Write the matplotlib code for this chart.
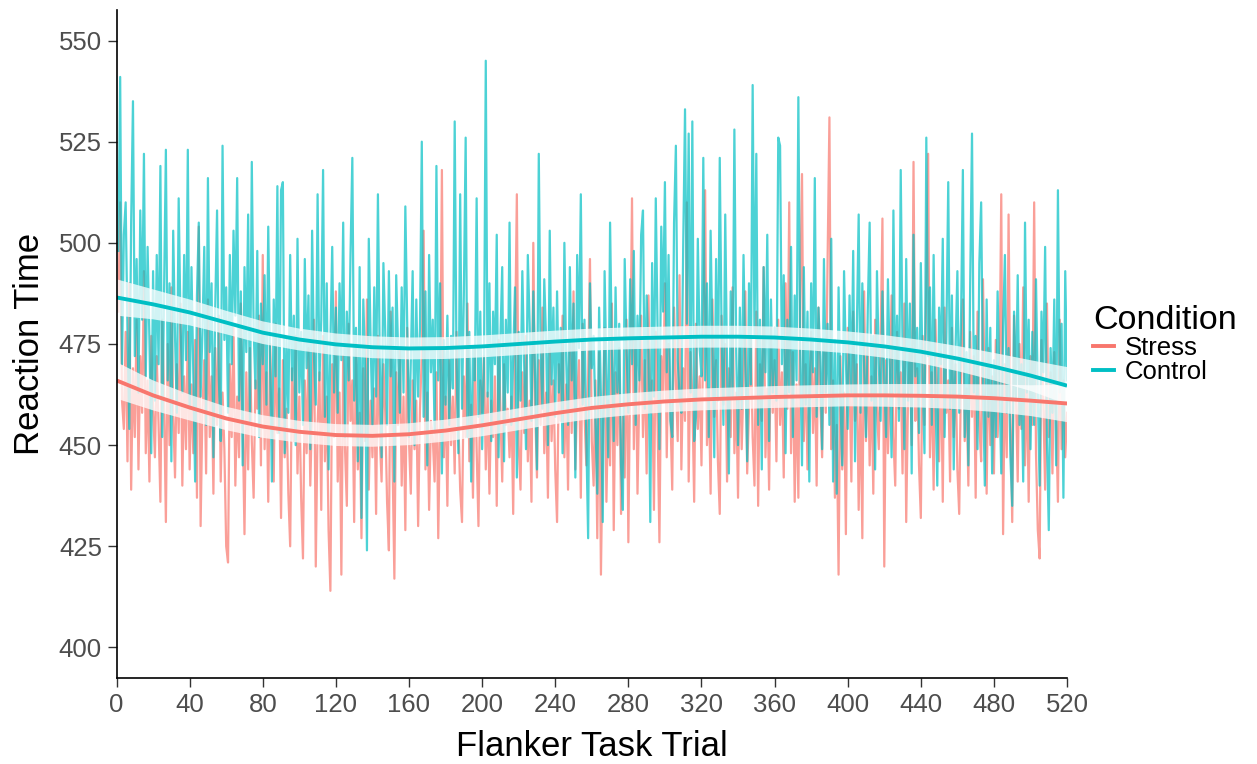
"""
Flanker task reaction time per trial, Stress vs Control, with loess-style fits.
Values read off the reference figure by eye.
"""

import matplotlib.pyplot as plt
from matplotlib.lines import Line2D
import numpy as np

plt.rcParams["font.family"] = ["Liberation Sans", "DejaVu Sans"]

# Trial-by-trial mean reaction time (trials 1..520), 20 values per row.
STRESS_RT = [
    483, 510, 461, 454, 478, 446, 490, 439, 469, 452, 481, 444, 472, 458, 493, 448, 466, 441, 477, 459,
    447, 472, 455, 436, 481, 462, 431, 475, 450, 489, 458, 442, 470, 453, 485, 440, 467, 449, 478, 444,
    465, 448, 476, 437, 504, 430, 459, 471, 443, 486, 452, 467, 438, 474, 455, 482, 441, 463, 449, 425,
    421, 470, 452, 479, 440, 462, 447, 485, 456, 428, 468, 444, 474, 451, 437, 466, 459, 482, 445, 497,
    449, 468, 436, 475, 458, 441, 480, 453, 464, 432, 471, 447, 459, 438, 425, 469, 451, 477, 443, 462,
    437, 422, 466, 448, 474, 440, 459, 481, 420, 455, 468, 434, 477, 446, 462, 429, 414, 470, 452, 488,
    441, 463, 418, 472, 449, 435, 480, 456, 466, 431, 475, 444, 458, 427, 469, 451, 486, 439, 461, 447,
    464, 433, 477, 452, 441, 470, 458, 436, 424, 483, 446, 417, 468, 455, 474, 440, 462, 429, 479, 451,
    438, 466, 449, 461, 430, 459, 472, 503, 444, 463, 434, 456, 452, 441, 468, 427, 457, 518, 447, 462,
    435, 471, 450, 462, 443, 478, 456, 439, 431, 467, 452, 485, 446, 460, 437, 474, 449, 430, 466, 458,
    472, 444, 463, 438, 461, 452, 467, 435, 476, 458, 441, 470, 455, 459, 447, 462, 433, 474, 512, 450,
    439, 468, 453, 477, 446, 461, 436, 500, 459, 442, 471, 455, 484, 448, 463, 437, 474, 451, 466, 444,
    431, 470, 456, 482, 447, 465, 439, 476, 453, 488, 444, 462, 471, 437, 480, 458, 445, 467, 496, 451,
    440, 466, 427, 473, 418, 452, 479, 436, 461, 445, 485, 429, 468, 450, 474, 433, 457, 442, 481, 426,
    468, 511, 449, 476, 438, 463, 482, 452, 471, 443, 487, 458, 466, 434, 478, 455, 426, 472, 461, 490,
    447, 475, 458, 439, 484, 466, 451, 492, 444, 469, 456, 510, 441, 473, 462, 436, 480, 454, 467, 445,
    478, 513, 450, 464, 438, 486, 457, 471, 446, 433, 482, 460, 475, 441, 469, 452, 489, 448, 463, 437,
    474, 449, 466, 488, 443, 459, 477, 452, 440, 483, 435, 470, 456, 494, 447, 464, 439, 479, 458, 471,
    446, 481, 455, 468, 442, 490, 459, 510, 448, 473, 436, 465, 437, 486, 517, 451, 470, 444, 462, 478,
    453, 469, 440, 484, 461, 447, 475, 458, 496, 531, 449, 466, 437, 455, 418, 472, 444, 463, 428, 479,
    466, 441, 483, 456, 470, 434, 462, 427, 488, 451, 474, 445, 467, 438, 481, 459, 449, 476, 506, 420,
    471, 448, 464, 487, 452, 440, 478, 459, 468, 443, 485, 431, 462, 474, 450, 520, 456, 469, 445, 432,
    477, 455, 490, 522, 447, 468, 439, 481, 460, 446, 473, 436, 484, 458, 466, 441, 479, 452, 470, 444,
    433, 469, 486, 451, 464, 440, 478, 457, 472, 437, 483, 455, 446, 491, 462, 438, 474, 450, 467, 443,
    476, 452, 465, 512, 428, 470, 447, 507, 458, 431, 482, 463, 441, 475, 454, 489, 445, 468, 436, 472,
    455, 510, 448, 429, 422, 476, 461, 439, 485, 452, 468, 443, 473, 457, 436, 481, 449, 466, 447, 458,
]

CONTROL_RT = [
    498, 541, 470, 502, 510, 478, 454, 505, 535, 472, 496, 463, 508, 481, 522, 467, 499, 476, 448, 493,
    461, 497, 470, 519, 452, 488, 523, 466, 490, 446, 503, 477, 458, 511, 480, 463, 497, 471, 523, 459,
    494, 468, 441, 487, 505, 462, 478, 499, 455, 516, 473, 490, 447, 484, 508, 466, 451, 524, 476, 489,
    458, 497, 470, 503, 482, 516, 461, 488, 445, 494, 473, 507, 456, 520, 479, 464, 498, 452, 485, 470,
    492, 460, 504, 471, 441, 486, 467, 514, 453, 513, 515, 448, 476, 458, 497, 466, 482, 450, 501, 463,
    478, 455, 496, 469, 487, 449, 503, 472, 460, 512, 466, 481, 518, 457, 490, 444, 475, 499, 463, 484,
    458, 490, 471, 505, 452, 483, 466, 497, 521, 461, 479, 446, 494, 432, 486, 469, 424, 501, 476, 455,
    489, 462, 512, 471, 447, 495, 478, 455, 493, 467, 484, 441, 492, 474, 458, 489, 463, 509, 480, 452,
    471, 493, 450, 486, 462, 479, 525, 457, 488, 445, 497, 468, 481, 453, 519, 466, 490, 443, 476, 460,
    482, 455, 477, 464, 530, 470, 448, 512, 459, 487, 526, 452, 478, 441, 474, 466, 511, 457, 483, 449,
    468, 545, 462, 490, 451, 483, 470, 502, 447, 476, 494, 446, 481, 463, 505, 455, 472, 489, 442, 478,
    461, 493, 470, 449, 497, 480, 456, 488, 467, 444, 522, 473, 459, 491, 476, 450, 503, 465, 484, 457,
    488, 463, 479, 448, 500, 471, 455, 494, 466, 485, 442, 497, 474, 512, 460, 481, 452, 427, 490, 469,
    477, 456, 438, 484, 462, 431, 493, 468, 447, 505, 472, 451, 489, 463, 480, 445, 434, 496, 474, 458,
    491, 470, 498, 455, 482, 466, 502, 508, 459, 487, 473, 431, 495, 462, 511, 478, 449, 504, 483, 515,
    468, 497, 456, 452, 505, 524, 471, 462, 458, 499, 533, 480, 527, 463, 530, 451, 457, 501, 474, 467,
    521, 466, 490, 452, 503, 475, 447, 496, 461, 521, 478, 455, 507, 469, 443, 488, 462, 528, 473, 450,
    484, 459, 497, 470, 446, 490, 465, 539, 477, 522, 455, 481, 444, 494, 468, 502, 451, 486, 463, 479,
    461, 526, 524, 470, 492, 448, 481, 463, 499, 452, 487, 466, 536, 474, 445, 494, 460, 483, 441, 490,
    468, 516, 457, 484, 472, 449, 496, 463, 480, 455, 501, 441, 476, 438, 489, 462, 445, 493, 471, 454,
    487, 463, 498, 446, 479, 507, 458, 490, 469, 452, 484, 505, 461, 477, 444, 493, 470, 456, 488, 466,
    452, 491, 470, 447, 508, 463, 482, 456, 518, 474, 449, 496, 461, 485, 443, 502, 467, 479, 453, 495,
    466, 448, 526, 472, 489, 455, 497, 463, 440, 484, 470, 501, 452, 478, 515, 459, 487, 444, 474, 493,
    458, 481, 518, 452, 473, 445, 490, 527, 463, 477, 449, 495, 510, 466, 440, 486, 457, 479, 443, 471,
    452, 488, 466, 443, 479, 497, 458, 474, 447, 435, 483, 461, 492, 455, 470, 441, 505, 463, 481, 449,
    478, 455, 491, 462, 440, 483, 468, 499, 451, 429, 474, 458, 486, 445, 513, 463, 480, 437, 493, 466,
]

# Smoothed fit every 20 trials, with its band half-width.
FIT_TRIALS = [0, 20, 40, 60, 80, 100, 120, 140, 160, 180, 200, 220, 240, 260,
              280, 300, 320, 340, 360, 380, 400, 420, 440, 460, 480, 500, 520]
STRESS_FIT = [466.0, 462.3, 459.3, 456.6, 454.6, 453.3, 452.5, 452.3, 452.7, 453.6,
              454.9, 456.4, 457.9, 459.2, 460.1, 460.8, 461.3, 461.6, 461.9, 462.1,
              462.3, 462.3, 462.2, 462.0, 461.6, 461.0, 460.3]
CONTROL_FIT = [486.5, 484.8, 482.8, 480.3, 477.8, 476.1, 474.9, 474.2, 473.9, 474.0,
               474.4, 475.0, 475.6, 476.1, 476.4, 476.6, 476.8, 476.8, 476.6, 476.1,
               475.4, 474.4, 473.1, 471.4, 469.4, 467.2, 464.7]
FIT_HALF_WIDTH = [4.5, 3.7, 3.2, 2.9, 2.8, 2.7, 2.7, 2.7, 2.7, 2.7, 2.7, 2.7, 2.7, 2.7,
                  2.7, 2.7, 2.7, 2.7, 2.7, 2.7, 2.7, 2.8, 2.9, 3.1, 3.4, 3.8, 4.6]

CONDITIONS = ["Stress", "Control"]
X_TICKS = [0, 40, 80, 120, 160, 200, 240, 280, 320, 360, 400, 440, 480, 520]
Y_TICKS = [400, 425, 450, 475, 500, 525, 550]

STRESS_COLOR = "#F8766D"
CONTROL_COLOR = "#00BFC4"


def main():
    fig = plt.figure(figsize=(12.57, 7.64), dpi=100)
    ax = fig.add_axes([0.0927, 0.1126, 0.7562, 0.8743])

    trials = np.arange(1, len(STRESS_RT) + 1)
    ax.plot(trials, STRESS_RT, color=STRESS_COLOR, lw=1.6, alpha=0.7)
    ax.plot(trials, CONTROL_RT, color=CONTROL_COLOR, lw=1.6, alpha=0.7)

    # Fit lines with their (whitish) confidence bands.
    hw = np.array(FIT_HALF_WIDTH)
    for fit, color in ((STRESS_FIT, STRESS_COLOR), (CONTROL_FIT, CONTROL_COLOR)):
        fit = np.array(fit)
        ax.fill_between(FIT_TRIALS, fit - hw, fit + hw, facecolor="white",
                        alpha=0.75, lw=0, zorder=3)
        ax.plot(FIT_TRIALS, fit, color=color, lw=2.8, solid_capstyle="butt",
                solid_joinstyle="round", zorder=4)

    ax.set_xlim(0, 520)
    ax.set_ylim(392.46, 557.54)
    ax.set_xticks(X_TICKS)
    ax.set_yticks(Y_TICKS)
    for side in ("top", "right"):
        ax.spines[side].set_visible(False)
    for side in ("left", "bottom"):
        ax.spines[side].set_linewidth(1.2)
        ax.spines[side].set_color("black")
        ax.spines[side].set_zorder(5)
    ax.tick_params(length=6.5, width=1, color="#333333", labelsize=18.5,
                   labelcolor="#4D4D4D", pad=4)

    ax.set_xlabel("Flanker Task Trial", fontsize=25, labelpad=10)
    ax.set_ylabel("Reaction Time", fontsize=25, labelpad=9)

    handles = [Line2D([], [], color=STRESS_COLOR, lw=2.8),
               Line2D([], [], color=CONTROL_COLOR, lw=2.8)]
    ax.legend(handles, CONDITIONS, title="Condition", loc="upper left",
              bbox_to_anchor=(1093 / 1257, 1 - 305 / 764),
              bbox_transform=fig.transFigure, frameon=False, fontsize=18.5,
              title_fontproperties={"size": 24.5}, handlelength=0.8,
              handletextpad=0.45, labelspacing=0.0, borderpad=0,
              borderaxespad=0, alignment="left")

    fig.savefig("out.png", dpi=100)


if __name__ == "__main__":
    main()
